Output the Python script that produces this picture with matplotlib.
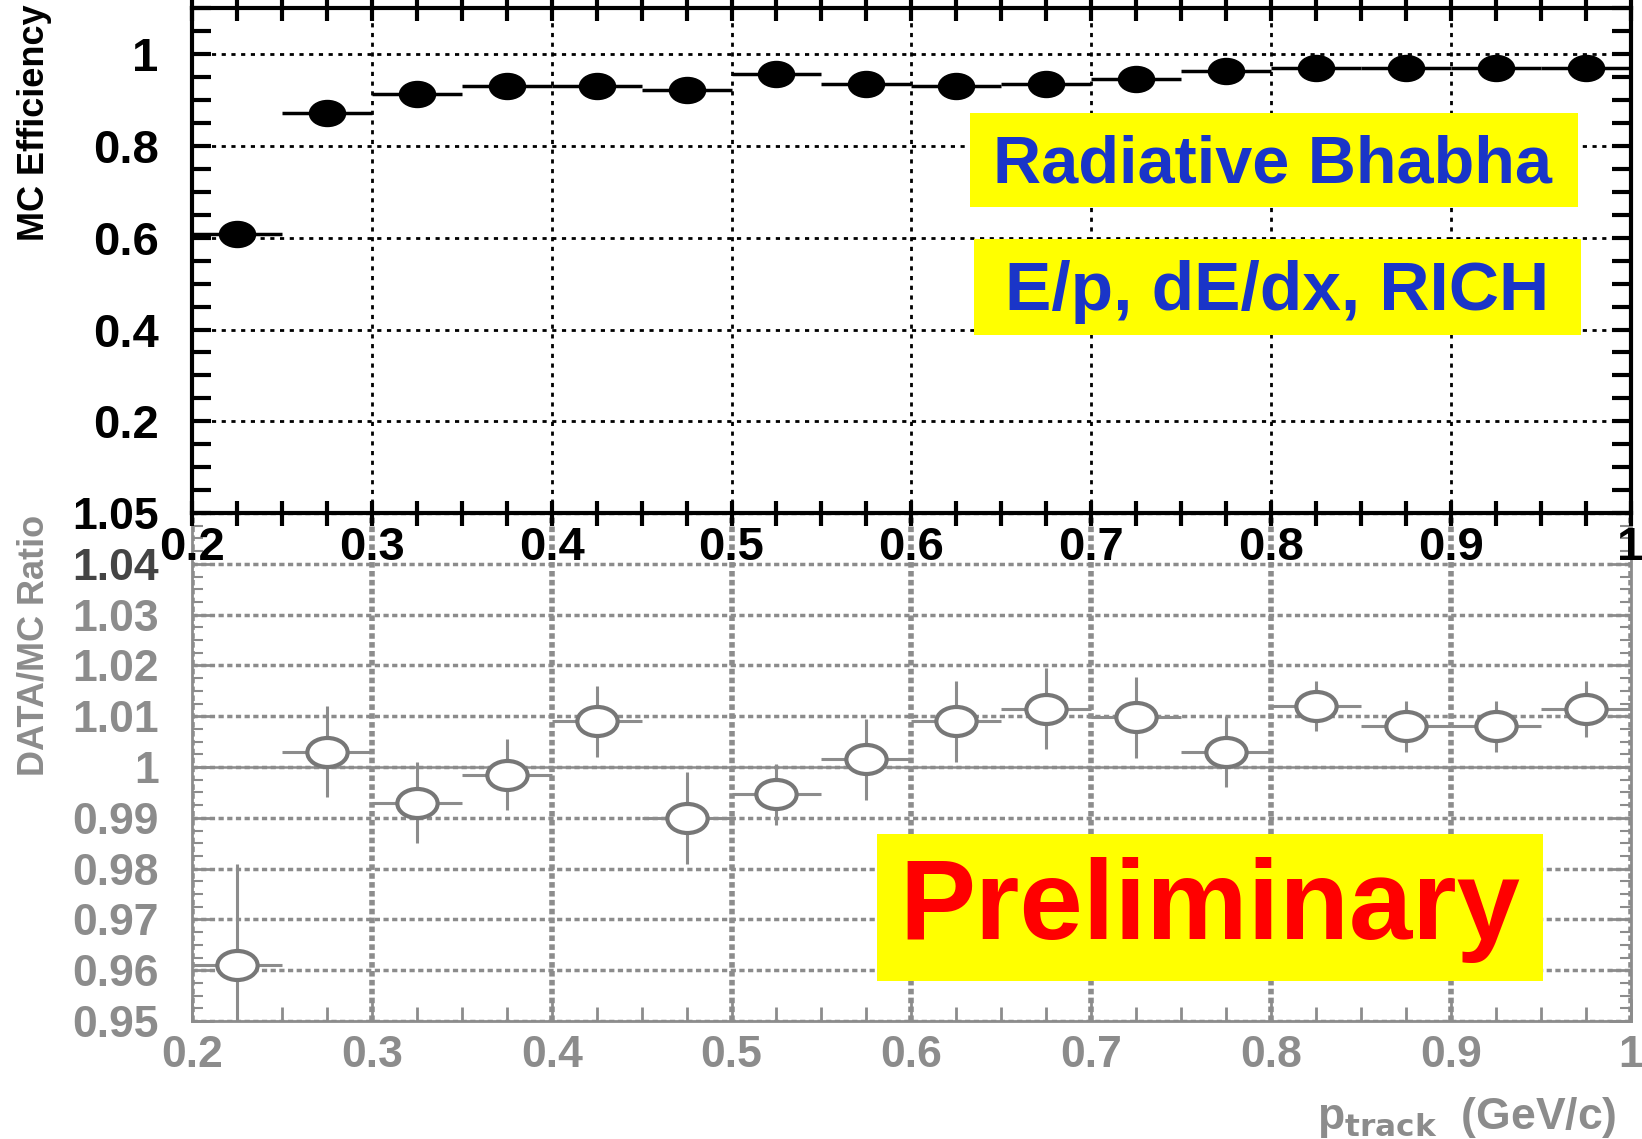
import matplotlib
matplotlib.use("Agg")
import matplotlib.pyplot as plt
from matplotlib.patches import Rectangle
from matplotlib.path import Path
from matplotlib.transforms import Affine2D
from matplotlib.ticker import MultipleLocator

plt.rcParams['font.family'] = ['Liberation Sans', 'DejaVu Sans']
plt.rcParams['font.weight'] = 'bold'

# bins in track momentum (GeV/c)
p_centers = [0.225, 0.275, 0.325, 0.375, 0.425, 0.475, 0.525, 0.575,
             0.625, 0.675, 0.725, 0.775, 0.825, 0.875, 0.925, 0.975]
p_halfwidth = [0.025] * 16

# MC efficiency
mc_eff = [0.609, 0.872, 0.913, 0.931, 0.931, 0.922, 0.956, 0.936,
          0.931, 0.936, 0.947, 0.963, 0.970, 0.970, 0.970, 0.970]

# DATA/MC ratio
ratio = [0.961, 1.003, 0.993, 0.9985, 1.009, 0.990, 0.9946, 1.0015,
         1.009, 1.0115, 1.0098, 1.003, 1.012, 1.008, 1.008, 1.0115]
ratio_err = [0.020, 0.009, 0.008, 0.007, 0.007, 0.009, 0.006, 0.008,
             0.008, 0.008, 0.008, 0.007, 0.005, 0.005, 0.005, 0.0055]

x_ticks = [0.2, 0.3, 0.4, 0.5, 0.6, 0.7, 0.8, 0.9, 1.0]
x_labels = ['0.2', '0.3', '0.4', '0.5', '0.6', '0.7', '0.8', '0.9', '1']
eff_ticks = [0.2, 0.4, 0.6, 0.8, 1.0]
eff_labels = ['0.2', '0.4', '0.6', '0.8', '1']
ratio_ticks = [0.95, 0.96, 0.97, 0.98, 0.99, 1.0, 1.01, 1.02, 1.03, 1.04, 1.05]
ratio_labels = ['0.95', '0.96', '0.97', '0.98', '0.99', '1', '1.01', '1.02',
                '1.03', '1.04', '1.05']

GREY = '#8c8c8c'
# ROOT-like ellipse marker (wider than tall)
ellipse = Path.unit_circle().transformed(Affine2D().scale(1.0, 0.72))

fig = plt.figure(figsize=(16.42, 11.39), dpi=100)

# ---- bottom panel: DATA/MC ratio (greyish scan look)
ax_r = fig.add_axes([0.117, 0.1036, 0.876, 0.446])
ax_r.set_xlim(0.2, 1.0)
ax_r.set_ylim(0.95, 1.05)
ax_r.set_xticks(x_ticks, x_labels)
ax_r.set_yticks(ratio_ticks, ratio_labels)
ax_r.xaxis.set_minor_locator(MultipleLocator(0.025))
ax_r.yaxis.set_minor_locator(MultipleLocator(0.0025))
ax_r.tick_params(axis='both', which='both', direction='in', colors=GREY,
                 labelcolor=GREY, labelsize=32, top=False, right=True)
ax_r.tick_params(axis='x', which='major', length=16, width=2, pad=10)
ax_r.tick_params(axis='x', which='minor', length=10, width=2)
ax_r.tick_params(axis='y', which='major', length=16, width=2, pad=24)
ax_r.tick_params(axis='y', which='minor', length=8, width=1.5)
ax_r.grid(axis='y', which='major', color=GREY, linestyle=(0, (1.5, 1.0)), linewidth=2.5)
ax_r.grid(axis='x', which='major', color=GREY, linestyle=(0, (1.0, 0.6)), linewidth=4)
ax_r.axhline(1.0, color=GREY, linewidth=1.8)
for s in ax_r.spines.values():
    s.set_color(GREY)
    s.set_linewidth(2)
ax_r.spines['top'].set_visible(False)
ax_r.yaxis.get_ticklabels()[-1].set_color('black')
ax_r.yaxis.get_ticklabels()[-2].set_color('#444444')

ax_r.errorbar(p_centers, ratio, xerr=p_halfwidth, yerr=ratio_err, fmt='none',
              ecolor=GREY, elinewidth=2.2, capsize=0, zorder=3)
ax_r.plot(p_centers, ratio, linestyle='none', marker=ellipse, markersize=29,
          markerfacecolor='white', markeredgecolor='#777777',
          markeredgewidth=3, zorder=4)

# ---- top panel: MC efficiency
ax_e = fig.add_axes([0.117, 0.5496, 0.876, 0.443])
ax_e.set_zorder(2)
ax_e.set_facecolor('white')
ax_e.set_xlim(0.2, 1.0)
ax_e.set_ylim(0.0, 1.1)
ax_e.set_xticks(x_ticks, x_labels)
ax_e.set_yticks(eff_ticks, eff_labels)
ax_e.xaxis.set_minor_locator(MultipleLocator(0.025))
ax_e.yaxis.set_minor_locator(MultipleLocator(0.05))
ax_e.tick_params(axis='both', which='both', direction='in', labelsize=34,
                 top=True, right=True, width=3)
ax_e.tick_params(axis='x', which='both', direction='inout', length=18, pad=0)
ax_e.tick_params(axis='y', which='both', length=14, pad=24)
ax_e.grid(which='major', color='black', linestyle=(0, (1.5, 2.0)), linewidth=2)
for s in ax_e.spines.values():
    s.set_linewidth(3)

ax_e.errorbar(p_centers, mc_eff, xerr=p_halfwidth, fmt='none', ecolor='black',
              elinewidth=2.5, capsize=0, zorder=3)
ax_e.plot(p_centers, mc_eff, linestyle='none', marker=ellipse, markersize=26,
          color='black', zorder=4)

# ---- axis titles
fig.text(0.021, 0.996, 'MC Efficiency', rotation=90, ha='center', va='top',
         fontsize=26, fontweight='bold',
         family=['Liberation Sans Narrow', 'Liberation Sans'])
fig.text(0.021, 0.548, 'DATA/MC Ratio', rotation=90, ha='center', va='top',
         fontsize=26, fontweight='bold', color=GREY,
         family=['Liberation Sans Narrow', 'Liberation Sans'])
fig.text(0.893, 0.019, r'p$_{\mathbf{track}}$  (GeV/c)', ha='center', va='center',
         fontsize=32, fontweight='bold', color=GREY)

# ---- labelled boxes
boxes = [
    ((0.591, 0.818), 0.370, 0.083, 'Radiative Bhabha', '#1a35c8', 48, (0.775, 0.855)),
    ((0.593, 0.706), 0.370, 0.084, 'E/p, dE/dx, RICH', '#1a35c8', 50, (0.778, 0.744)),
    ((0.534, 0.139), 0.406, 0.129, 'Preliminary', '#ff0000', 82, (0.737, 0.201)),
]
for (x0, y0), w, h, txt, col, fs, (tx, ty) in boxes:
    fig.patches.append(Rectangle((x0, y0), w, h, transform=fig.transFigure,
                                 facecolor='#ffff00', edgecolor='none', zorder=5))
    fig.text(tx, ty, txt, ha='center', va='center', color=col, fontsize=fs,
             fontweight='bold', zorder=6)

fig.savefig('out.png', dpi=100)
